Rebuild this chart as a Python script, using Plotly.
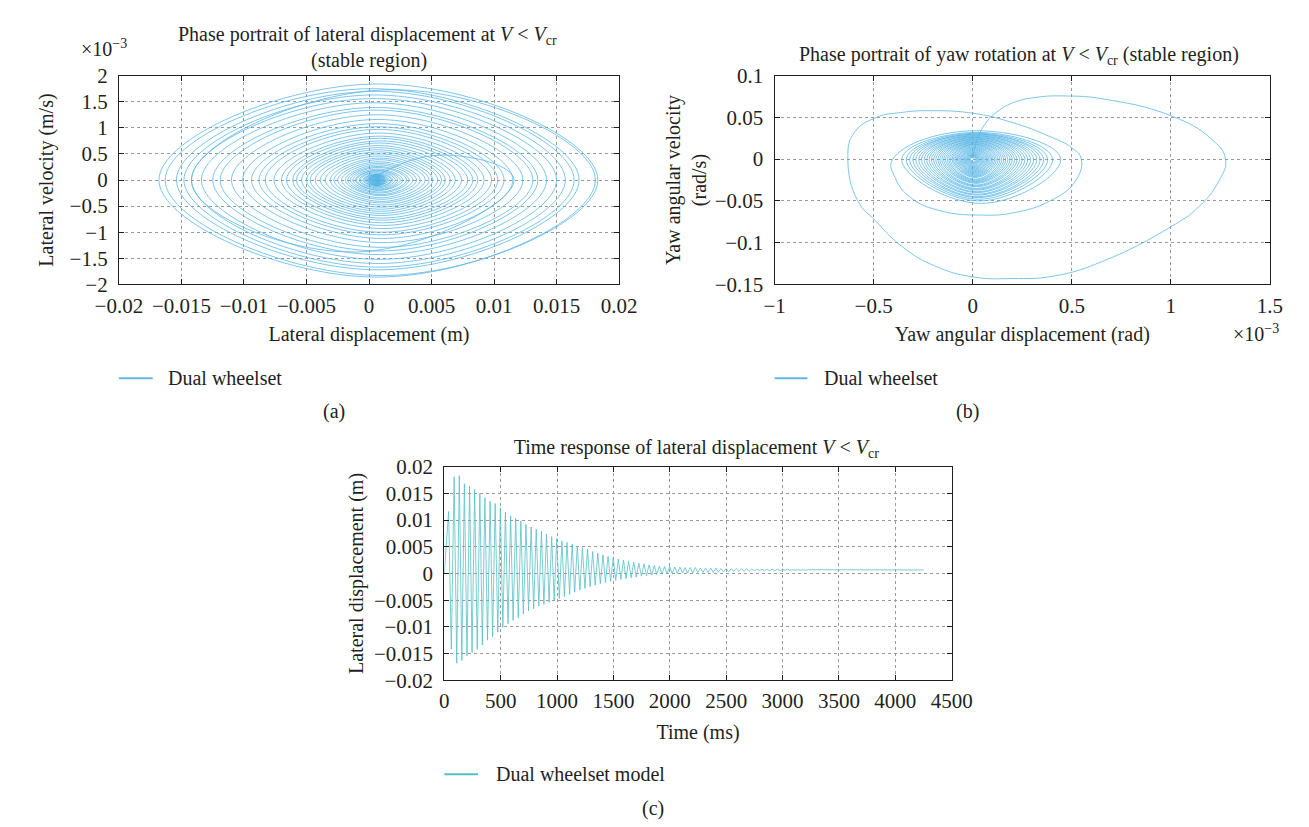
import plotly.graph_objects as go

FIG_W, FIG_H = 1309, 827
FONT = "Liberation Serif"
TXT = "#231f20"
BLUE = "#5cb8e6"
TEAL = "#55c0c8"

# ---------------- data ----------------
# (c) lateral displacement: positive / negative peaks of the oscillation
start_t, start_y = 0, 0.0
pos_peak_t = [38, 87, 133, 178, 224, 269, 315, 360, 406, 451, 497, 542, 588, 633, 679, 724, 770, 815,
              861, 906, 952, 997, 1043, 1088, 1134, 1179, 1225, 1270, 1316, 1361, 1407, 1452, 1498,
              1543, 1589, 1634, 1680, 1725, 1771, 1816, 1862, 1907, 1953, 1998, 2044, 2089, 2135,
              2180, 2226, 2271, 2317, 2362, 2408, 2453, 2499, 2544, 2590, 2635, 2681, 2726, 2772,
              2817, 2863, 2908, 2954, 2999, 3045, 3090, 3136, 3181, 3227]
pos_peak_y = [0.0116, 0.0181, 0.0183, 0.0168, 0.0164, 0.0157, 0.0150, 0.0142, 0.0135, 0.0131,
              0.0123, 0.0115, 0.0108, 0.0103, 0.0098, 0.0092, 0.0087, 0.0083, 0.0079, 0.0074,
              0.0069, 0.0065, 0.0061, 0.0058, 0.0055, 0.0051, 0.0048, 0.0045, 0.0041, 0.0038,
              0.0035, 0.0032, 0.0030, 0.0027, 0.0025, 0.0023, 0.0021, 0.0019, 0.0018, 0.0016,
              0.0015, 0.0014, 0.0013, 0.0013, 0.0012, 0.0012, 0.0011, 0.0011, 0.0011, 0.0010,
              0.0010, 0.0010, 0.0010, 0.0009, 0.0009, 0.0009, 0.0009, 0.0009, 0.0009, 0.0008,
              0.0008, 0.0008, 0.0008, 0.0008, 0.0008, 0.0008, 0.0008, 0.0007, 0.0007, 0.0007,
              0.0007]
neg_peak_t = [62, 110, 155, 201, 246, 292, 337, 383, 428, 474, 519, 565, 610, 656, 701, 747, 792, 838,
              883, 929, 974, 1020, 1065, 1111, 1156, 1202, 1247, 1293, 1338, 1384, 1429, 1475, 1520,
              1566, 1611, 1657, 1702, 1748, 1793, 1839, 1884, 1930, 1975, 2021, 2066, 2112, 2157,
              2203, 2248, 2294, 2339, 2385, 2430, 2476, 2521, 2567, 2612, 2658, 2703, 2749, 2794,
              2840, 2885, 2931, 2976, 3022, 3067, 3113, 3158, 3204]
neg_peak_y = [-0.0142, -0.0168, -0.0163, -0.0154, -0.0148, -0.0142, -0.0134, -0.0125, -0.0119, -0.0110,
              -0.0101, -0.0094, -0.0088, -0.0083, -0.0076, -0.0070, -0.0066, -0.0061, -0.0058, -0.0054,
              -0.0050, -0.0047, -0.0043, -0.0039, -0.0035, -0.0031, -0.0028, -0.0025, -0.0022, -0.0019,
              -0.0017, -0.0015, -0.0013, -0.0011, -0.0010, -0.0008, -0.0007, -0.0005, -0.0004, -0.0003,
              -0.0002, -0.0001, -0.0001, 0.0000, 0.0000, 0.0001, 0.0001, 0.0001, 0.0002, 0.0002,
              0.0002, 0.0002, 0.0003, 0.0003, 0.0003, 0.0004, 0.0004, 0.0004, 0.0004, 0.0005,
              0.0005, 0.0005, 0.0005, 0.0005, 0.0005, 0.0006, 0.0006, 0.0006, 0.0006, 0.0006]
end_t, end_y = 4250, 0.00065

# (a) lateral velocity extremes (x1e-3 m/s) between successive displacement peaks
lat_vel_1e3 = [0.48, -1.38, 1.73, -1.86, 1.84, -1.83, 1.75, -1.72, 1.70, -1.67,
               1.63, -1.60, 1.56, -1.52, 1.48, -1.43, 1.39, -1.36, 1.34, -1.29,
               1.25, -1.20, 1.16, -1.12, 1.08, -1.05, 1.02, -1.00, 0.97, -0.93,
               0.90, -0.87, 0.84, -0.82, 0.80, -0.77, 0.75, -0.73, 0.71, -0.68,
               0.66, -0.64, 0.62, -0.60, 0.58, -0.56, 0.54, -0.52, 0.50, -0.48,
               0.46, -0.44, 0.42, -0.41, 0.39, -0.37, 0.35, -0.34, 0.32, -0.30,
               0.29, -0.28, 0.26, -0.25, 0.24, -0.23, 0.21, -0.20, 0.19, -0.19,
               0.18, -0.17, 0.16, -0.15, 0.14, -0.13, 0.12, -0.12, 0.11, -0.10,
               0.10, -0.10, 0.10, -0.10, 0.10, -0.10, 0.10, -0.10, 0.10, -0.10,
               0.09, -0.09, 0.09, -0.09, 0.09, -0.09, 0.08, -0.08, 0.08, -0.08,
               0.08, -0.07, 0.07, -0.07, 0.07, -0.06, 0.06, -0.06, 0.06, -0.05,
               0.05, -0.05, 0.05, -0.04, 0.04, -0.04, 0.04, -0.03, 0.03, -0.03,
               0.03, -0.03, 0.02, -0.02, 0.02, -0.02, 0.02, -0.02, 0.01, -0.01,
               0.01, -0.01, 0.01, -0.01, 0.01, -0.01, 0.01, -0.01, 0.01, -0.01,
               0.01]

# (b) yaw: first large loops (x in 1e-3 rad, velocity in rad/s)
yaw_outer_x = [0.0, 0.016, 0.065, 0.13, 0.21, 0.32, 0.48, 0.66, 1.0, 1.2,
               1.276, 1.24, 1.137, 1.0, 0.66, 0.41, 0.2, 0.0, -0.19, -0.355,
               -0.49, -0.58, -0.63, -0.60, -0.49, -0.355, -0.21, 0.0, 0.19, 0.39,
               0.5, 0.548, 0.516, 0.39, 0.21, 0.05, -0.16, -0.31, -0.39]
yaw_outer_v = [0.0, 0.019, 0.043, 0.058, 0.068, 0.074, 0.0756, 0.072, 0.052, 0.025,
               0.0, -0.027, -0.058, -0.081, -0.122, -0.14, -0.143, -0.141, -0.128, -0.105,
               -0.074, -0.05, 0.0, 0.031, 0.0496, 0.056, 0.058, 0.055, 0.0446, 0.027,
               0.0136, 0.0, -0.027, -0.05, -0.064, -0.067, -0.062, -0.0465, -0.023]
# (b) yaw: inner spiral, angle extremes and velocity extremes between them
yaw_inner_x = [-0.403, 0.444, -0.358, 0.403, -0.335, 0.378, -0.318, 0.358, -0.302, 0.340, -0.287,
               0.323, -0.272, 0.307, -0.258, 0.292, -0.245, 0.277, -0.232, 0.263, -0.220, 0.249,
               -0.208, 0.236, -0.197, 0.223, -0.186, 0.211, -0.175, 0.199, -0.165, 0.188, -0.155,
               0.177, -0.146, 0.166, -0.137, 0.156, -0.128, 0.146, -0.120, 0.137, -0.112, 0.128,
               -0.104, 0.119, -0.097, 0.111, -0.090, 0.103, -0.083, 0.096, -0.077, 0.089, -0.071,
               0.082, -0.065, 0.076, -0.060, 0.070, -0.055, 0.064, -0.050, 0.058, -0.045, 0.053,
               -0.041, 0.048, -0.037, 0.043, -0.033, 0.038, -0.029, 0.033, -0.025, 0.029, -0.021,
               0.025, -0.018, 0.021, -0.015, 0.017, -0.012]
yaw_inner_v = [0.034, -0.053, 0.032, -0.050, 0.031, -0.048, 0.030, -0.046, 0.030, -0.045, 0.029,
               -0.043, 0.028, -0.042, 0.028, -0.040, 0.027, -0.039, 0.026, -0.037, 0.026, -0.036,
               0.025, -0.035, 0.024, -0.033, 0.024, -0.032, 0.023, -0.031, 0.022, -0.029, 0.022,
               -0.028, 0.021, -0.027, 0.020, -0.026, 0.020, -0.025, 0.019, -0.024, 0.018, -0.022,
               0.018, -0.021, 0.017, -0.020, 0.016, -0.019, 0.015, -0.018, 0.014, -0.017, 0.013,
               -0.016, 0.012, -0.015, 0.011, -0.014, 0.010, -0.013, 0.009, -0.012, 0.008, -0.011,
               0.007, -0.010, 0.006, -0.009, 0.005, -0.008, 0.005, -0.007, 0.004, -0.006, 0.003,
               -0.005, 0.003, -0.004, 0.002, -0.003]

# tick values / labels
a_xticks = [-0.02, -0.015, -0.01, -0.005, 0, 0.005, 0.01, 0.015, 0.02]
a_xlabels = ["\u22120.02", "\u22120.015", "\u22120.01", "\u22120.005", "0", "0.005", "0.01", "0.015", "0.02"]
a_yticks = [-2, -1.5, -1, -0.5, 0, 0.5, 1, 1.5, 2]
a_ylabels = ["\u22122", "\u22121.5", "\u22121", "\u22120.5", "0", "0.5", "1", "1.5", "2"]
b_xticks = [-1, -0.5, 0, 0.5, 1, 1.5]
b_xlabels = ["\u22121", "\u22120.5", "0", "0.5", "1", "1.5"]
b_yticks = [-0.15, -0.1, -0.05, 0, 0.05, 0.1]
b_ylabels = ["\u22120.15", "\u22120.1", "\u22120.05", "0", "0.05", "0.1"]
c_xticks = [0, 500, 1000, 1500, 2000, 2500, 3000, 3500, 4000, 4500]
c_xlabels = ["0", "500", "1000", "1500", "2000", "2500", "3000", "3500", "4000", "4500"]
c_yticks = [-0.02, -0.015, -0.01, -0.005, 0, 0.005, 0.01, 0.015, 0.02]
c_ylabels = ["\u22120.02", "\u22120.015", "\u22120.01", "\u22120.005", "0", "0.005", "0.01", "0.015", "0.02"]

# ---------------- assemble traces from the data ----------------
peaks = [(start_t, start_y)] + sorted(list(zip(pos_peak_t, pos_peak_y)) + list(zip(neg_peak_t, neg_peak_y)))
time_t = [p[0] for p in peaks] + [end_t]
time_y = [p[1] for p in peaks] + [end_y]

disp_ext = [p[1] for p in peaks]
n_a = min(len(lat_vel_1e3), len(disp_ext) - 1)
a_x, a_v = [], []
for i in range(n_a):
    a_x.append(disp_ext[i]); a_v.append(0.0)
    a_x.append((disp_ext[i] + disp_ext[i + 1]) / 2); a_v.append(lat_vel_1e3[i])
a_x.append(disp_ext[n_a]); a_v.append(0.0)

b_x, b_v = list(yaw_outer_x), list(yaw_outer_v)
n_in = min(len(yaw_inner_v), len(yaw_inner_x) - 1)
for i in range(n_in):
    b_x.append(yaw_inner_x[i]); b_v.append(0.0)
    b_x.append((yaw_inner_x[i] + yaw_inner_x[i + 1]) / 2); b_v.append(yaw_inner_v[i])
b_x.append(yaw_inner_x[n_in]); b_v.append(0.0)


def px(x):
    return x / FIG_W


def py(y):
    return 1 - y / FIG_H


fig = go.Figure()
fig.add_trace(go.Scatter(x=a_x, y=a_v, mode="lines", name="Dual wheelset", showlegend=False,
                         line=dict(color=BLUE, width=0.8, shape="spline", smoothing=1.3),
                         xaxis="x", yaxis="y"))
fig.add_trace(go.Scatter(x=b_x, y=b_v, mode="lines", name="Dual wheelset", showlegend=False,
                         line=dict(color=BLUE, width=0.8, shape="spline", smoothing=1.3),
                         xaxis="x2", yaxis="y2"))
fig.add_trace(go.Scatter(x=time_t, y=time_y, mode="lines", name="Dual wheelset model", showlegend=False,
                         line=dict(color=TEAL, width=0.8),
                         xaxis="x3", yaxis="y3"))

tickfont = dict(family=FONT, size=21, color=TXT)
titlefont = dict(family=FONT, size=20, color=TXT)


def ax(domain, rng, tv, tt, anchor, title, standoff, letter):
    return dict(domain=domain, range=rng, tickvals=tv, ticktext=tt, anchor=anchor,
                showline=True, linecolor=TXT, linewidth=1, mirror="ticks",
                ticks="inside", ticklen=5, tickcolor=TXT, tickwidth=1,
                showgrid=True, gridcolor="#9a9a9a", gridwidth=1, griddash="dot",
                zeroline=False, tickfont=tickfont,
                ticklabelstandoff=2 if letter == "x" else 6, fixedrange=True,
                title=dict(text=title, font=titlefont, standoff=standoff))


VCR = "<i>V</i> &lt; <i>V</i><sub>cr</sub>"

fig.update_layout(
    width=FIG_W, height=FIG_H, margin=dict(l=0, r=0, t=0, b=0),
    paper_bgcolor="white", plot_bgcolor="white", showlegend=False,
    title=dict(text="Time response of lateral displacement " + VCR, xref="paper", yref="paper",
               x=px(688), y=py(440), xanchor="center", yanchor="middle", font=titlefont),
    xaxis=ax([px(90), px(608)], [-0.02, 0.02], a_xticks, a_xlabels, "y",
             "Lateral displacement (m)", 10, "x"),
    yaxis=ax([py(272.3), py(57.3)], [-2, 2], a_yticks, a_ylabels, "x",
             "Lateral velocity (m/s)", 10, "y"),
    xaxis2=ax([px(769), px(1282)], [-1, 1.5], b_xticks, b_xlabels, "y2",
              "Yaw angular displacement (rad)", 10, "x"),
    yaxis2=ax([py(272.3), py(57.3)], [-0.15, 0.1], b_yticks, b_ylabels, "x2",
              "Yaw angular velocity<br>(rad/s)", 2, "y"),
    xaxis3=ax([px(427), px(952.5)], [0, 4500], c_xticks, c_xlabels, "y3",
              "Time (ms)", 12, "x"),
    yaxis3=ax([py(680), py(460)], [-0.02, 0.02], c_yticks, c_ylabels, "x3",
              "Lateral displacement (m)", 5, "y"),
)

texts = [
    ("Phase portrait of lateral displacement at " + VCR, 347, 15.7, "center"),
    ("(stable region)", 349, 41.7, "center"),
    ("\u00d710<sup>\u22123</sup>", 75, 29, "center"),
    ("Dual wheelset", 139, 369, "left"),
    ("(a)", 313, 403, "center"),
    ("Phase portrait of yaw rotation at " + VCR + " (stable region)", 1022, 36.7, "center"),
    ("\u00d710<sup>\u22123</sup>", 1268, 322, "center"),
    ("Dual wheelset", 818, 369, "left"),
    ("(b)", 969, 403, "center"),
    ("Dual wheelset model", 478, 776.7, "left"),
    ("(c)", 643, 811.7, "center"),
]
for t, x, y, anc in texts:
    fig.add_annotation(text=t, xref="paper", yref="paper", x=px(x), y=py(y),
                       xanchor=anc, yanchor="middle", showarrow=False,
                       font=dict(family=FONT, size=20, color=TXT))

for x0, x1, y, c in [(90, 125, 369, BLUE), (769, 803, 369, BLUE), (427, 462, 776.7, TEAL)]:
    fig.add_shape(type="line", xref="paper", yref="paper", x0=px(x0), x1=px(x1), y0=py(y), y1=py(y),
                  line=dict(color=c, width=2))

fig.write_html("out.html")
